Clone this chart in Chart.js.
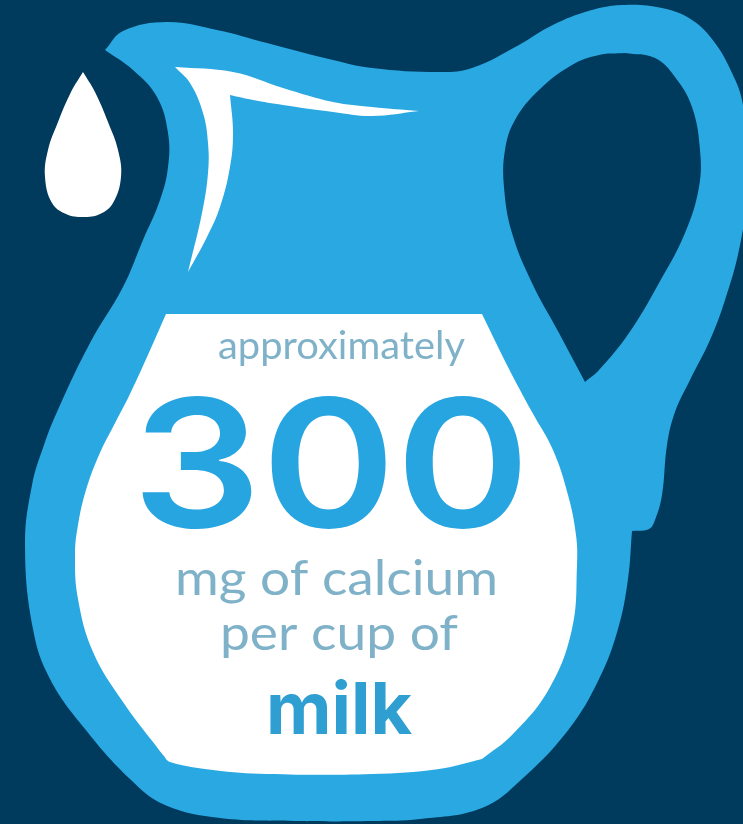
<!DOCTYPE html>
<html>
<head>
<meta charset="utf-8">
<script src="https://cdn.jsdelivr.net/npm/chart.js@4"></script>
<style>
  html, body { margin: 0; padding: 0; background: #003a5c; overflow: hidden; }
  canvas { display: block; }
</style>
</head>
<body>
<canvas id="jugChart" width="743" height="824"></canvas>
<script>
// outlines (a repeated point makes a sharp corner)
const jugX = [105,105,123,167,217,267,333,372,439,472,519,549,585,622,662,692,715,732,742,746,746,739,725,710,690,675,667,662,655,649,632,632,628,618,599,569,522,482,420,372,300,220,165,130,85,50,33,25,32,44,57,90,123,143,160,168,168,157,133,105,105];
const jugY = [50,50,31,22,30,43,60,68,72,68,45,27,12,5,8,20,43,73,100,140,200,250,300,340,380,412,445,495,520,529,531,531,579,629,679,729,779,808,819,821,821,818,805,779,729,679,629,545,485,445,412,343,287,240,200,167,133,97,70,50,50];

const holeX = [625,599,572,539,515,505,504,512,532,559,585,585,599,629,659,685,699,700,692,675,655,625];
const holeY = [53,55,65,90,120,150,187,233,283,333,382,382,370,333,283,233,187,150,107,77,58,53];

const panelX = [166,166,482,482,508,532,553,568,576,577,572,549,512,482,482,439,372,267,213,170,163,163,123,93,78,75,78,86,99,114,129,147,166,166];
const panelY = [314,314,314,314,367,412,450,495,535,565,629,689,735,759,759,769,774,774,770,762,755,755,702,652,599,555,525,490,455,425,396,357,314,314];

const shineX = [175,175,233,283,333,372,419,419,372,333,283,253,230,230,233,230,220,207,188,188,202,208,208,203,190,175,175];
const shineY = [67,67,72,88,102,107,111,111,116,112,105,100,95,95,133,167,207,237,272,272,213,173,143,113,83,67,67];

const dropX = [83,83,95,108,118,121,113,100,83,66,52,45,48,58,71,83,83];
const dropY = [72,72,92,122,150,177,203,214,217,214,203,177,150,122,92,72,72];

const textLines = ["approximately", "300", "mg of calcium", "per cup of", "milk"];
const textX = [218, 132, 175, 220, 266];
const textY = [359, 527, 595, 650, 734];
const textWidth = [247, 398, 323, 238, 146];
const textFont = ["38px Lato", "600 178px Inter", "48px Lato", "48px Lato", "bold 72px Inter"];
const textColor = ["#7fb2c8", "#27a5e0", "#7fb2c8", "#7fb2c8", "#2f9fd2"];

function toPoints(xs, ys) {
  return xs.map((x, i) => ({ x: x, y: ys[i] }));
}

function shape(xs, ys, color, order) {
  return {
    data: toPoints(xs, ys),
    showLine: true,
    fill: "shape",
    backgroundColor: color,
    borderWidth: 0,
    pointRadius: 0,
    tension: 0.4,
    order: order,
  };
}

// text goes through the same scales as the shapes
const labelPlugin = {
  id: "labels",
  afterDatasetsDraw(chart) {
    const ctx = chart.ctx;
    ctx.save();
    ctx.textAlign = "left";
    ctx.textBaseline = "alphabetic";
    textLines.forEach((line, i) => {
      const px = chart.scales.x.getPixelForValue(textX[i]);
      const py = chart.scales.y.getPixelForValue(textY[i]);
      ctx.font = textFont[i];
      ctx.fillStyle = textColor[i];
      const stretch = textWidth[i] / ctx.measureText(line).width;
      ctx.save();
      ctx.translate(px, py);
      ctx.scale(stretch, 1);
      ctx.fillText(line, 0, 0);
      ctx.restore();
    });
    ctx.restore();
  },
};

new Chart(document.getElementById("jugChart").getContext("2d"), {
  type: "scatter",
  data: {
    datasets: [
      shape(jugX, jugY, "#29a8e2", 5),
      shape(holeX, holeY, "#003a5c", 4),
      shape(panelX, panelY, "#ffffff", 3),
      shape(shineX, shineY, "#ffffff", 2),
      shape(dropX, dropY, "#ffffff", 1),
    ],
  },
  options: {
    responsive: false,
    animation: false,
    layout: { padding: 0 },
    plugins: { legend: { display: false }, tooltip: { enabled: false } },
    scales: {
      x: { type: "linear", min: 0, max: 743, display: false },
      y: { type: "linear", min: 0, max: 824, reverse: true, display: false },
    },
  },
  plugins: [labelPlugin],
});
</script>
</body>
</html>
